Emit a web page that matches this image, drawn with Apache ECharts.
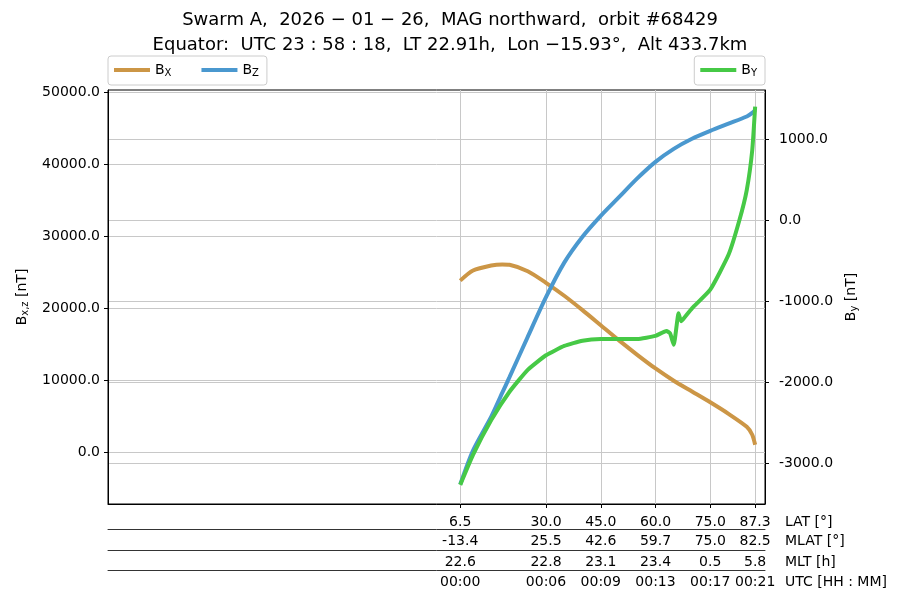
<!DOCTYPE html>
<html><head><meta charset="utf-8">
<script src="https://cdn.jsdelivr.net/npm/echarts@6/dist/echarts.min.js"></script>
<style>html,body{margin:0;padding:0;background:#fff}#c{width:900px;height:600px}</style>
</head><body><div id="c"></div>
<script>
const latXZ = [6.5,10,15,18,20,25,30,35,40,45,50,55,60,65,70,75,80,85,86.5,87.3];
const bx = [23800,25200,25900,26050,26000,25100,23500,21700,19700,17600,15500,13500,11600,9900,8400,6900,5300,3500,2400,1000];
const bz = [-4500,200,4900,8200,10400,16000,21500,26300,29900,32800,35400,38000,40300,42100,43500,44600,45600,46600,47100,47500];
const latY = [6.5,10,15,20,25,30,35,40,45,50,55,60,63,64,65,65.8,66.3,67,68,70,75,80,83,85,86.5,87.3];
const by = [-3270,-2900,-2470,-2120,-1850,-1670,-1555,-1490,-1470,-1470,-1470,-1430,-1370,-1400,-1540,-1300,-1150,-1250,-1200,-1090,-860,-430,0,370,860,1400];
const tickLat = [6.5,30.0,45.0,60.0,75.0,87.3];
const mlat = ['-13.4','25.5','42.6','59.7','75.0','82.5'];
const mlt = ['22.6','22.8','23.1','23.4','0.5','5.8'];
const utc = ['00:00','00:06','00:09','00:13','00:17','00:21'];
const leftTicks = [0,10000,20000,30000,40000,50000];
const rightTicks = [-3000,-2000,-1000,0,1000];

const font = 'DejaVu Sans';
const pair = (xs, ys) => xs.map((x,i)=>[x, ys[i]]);
const txt = {fontFamily: font, fontSize: 14, color: '#000'};
function rowAxis(off, labels, name){
  return {type:'value', gridIndex:0, position:'bottom', offset:off, min:-90, max:90,
    axisLine:{show:true, onZero:false, lineStyle:{color:'#000', width:0.8}}, axisTick:{show:false},
    splitLine:{show:false},
    axisLabel:Object.assign({customValues:tickLat, margin:5, formatter:v=>{const i=tickLat.findIndex(t=>Math.abs(t-v)<1e-6);return i>=0?labels[i]:'';}}, txt),
    name:name, nameLocation:'end', nameGap:20,
    nameTextStyle:Object.assign({verticalAlign:'top', padding:[5,0,0,0]}, txt)};
}
const rich = {b:{fontFamily:font,fontSize:14,color:'#000'}, s:{fontFamily:font,fontSize:10,color:'#000',verticalAlign:'bottom',padding:[6,0,0,0]}};
const sub = {Bx:'X', Bz:'Z', By:'Y'};
const chart = echarts.init(document.getElementById('c'));
chart.setOption({
  animation:false,
  title:{text:'Swarm A,  2026 − 01 − 26,  MAG northward,  orbit #68429\nEquator:  UTC 23 : 58 : 18,  LT 22.91h,  Lon −15.93°,  Alt 433.7km',
    left:'center', top:3, textStyle:{fontFamily:font, fontSize:18, fontWeight:'normal', color:'#000', lineHeight:25}},
  legend:[
    {data:['Bx','Bz'], left:108, top:56, itemWidth:36, itemHeight:4, itemGap:30, padding:[7,8,7,6],
     borderColor:'#ccc', borderWidth:1, borderRadius:3, icon:'rect',
     formatter:n=>'{b|B}{s|'+sub[n]+'}', textStyle:{rich:rich}},
    {data:['By'], right:135, top:56, itemWidth:36, itemHeight:4, padding:[7,8,7,6],
     borderColor:'#ccc', borderWidth:1, borderRadius:3, icon:'rect',
     formatter:n=>'{b|B}{s|'+sub[n]+'}', textStyle:{rich:rich}}
  ],
  grid:{left:108, right:135, top:90, bottom:96, show:true, borderColor:'#000', borderWidth:1},
  xAxis:[
    {type:'value', min:-90, max:90,
     axisLine:{onZero:false, lineStyle:{color:'#000'}},
     axisTick:{customValues:tickLat, length:4, lineStyle:{color:'#000'}},
     axisLabel:Object.assign({customValues:tickLat, margin:11, formatter:v=>v.toFixed(1)}, txt),
     splitLine:{show:true, lineStyle:{color:'#c8c8c8'}},
     name:'LAT [°]', nameLocation:'end', nameGap:20,
     nameTextStyle:Object.assign({verticalAlign:'top', padding:[11,0,0,0]}, txt)},
    rowAxis(25, mlat, 'MLAT [°]'),
    rowAxis(46, mlt, 'MLT [h]'),
    rowAxis(66, utc, 'UTC [HH : MM]')
  ],
  yAxis:[
    {type:'value', min:-7222, max:50278, position:'left',
     axisLine:{show:true, onZero:false, lineStyle:{color:'#000'}},
     axisTick:{show:true, customValues:leftTicks, length:4, lineStyle:{color:'#000'}},
     axisLabel:Object.assign({customValues:leftTicks, formatter:v=>v.toFixed(1)}, txt),
     splitLine:{show:true, lineStyle:{color:'#c8c8c8'}},
     name:'{b|B}{s|x,z}{b| [nT]}', nameLocation:'middle', nameGap:78, nameRotate:90,
     nameTextStyle:{rich:rich}},
    {type:'value', min:-3506, max:1605, position:'right',
     axisLine:{show:true, onZero:false, lineStyle:{color:'#000'}},
     axisTick:{show:true, customValues:rightTicks, length:4, lineStyle:{color:'#000'}},
     axisLabel:Object.assign({customValues:rightTicks, margin:14, formatter:v=>v.toFixed(1)}, txt),
     splitLine:{show:true, lineStyle:{color:'#c8c8c8'}},
     name:'{b|B}{s|y}{b| [nT]}', nameLocation:'middle', nameGap:68, nameRotate:90,
     nameTextStyle:{rich:rich}}
  ],
  series:[
    {name:'Bx', type:'line', yAxisIndex:0, data:pair(latXZ,bx), showSymbol:false, smooth:0.25,
     lineStyle:{width:4, color:'#cc9646'}, itemStyle:{color:'#cc9646'}},
    {name:'Bz', type:'line', yAxisIndex:0, data:pair(latXZ,bz), showSymbol:false, smooth:0.25,
     lineStyle:{width:4, color:'#4a98cf'}, itemStyle:{color:'#4a98cf'}},
    {name:'By', type:'line', yAxisIndex:1, data:pair(latY,by), showSymbol:false, smooth:0.15,
     lineStyle:{width:4, color:'#46c946'}, itemStyle:{color:'#46c946'}}
  ]
});
</script></body></html>
